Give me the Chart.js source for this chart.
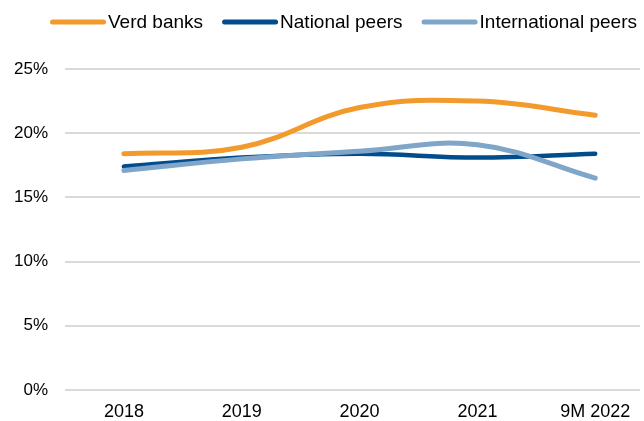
<!DOCTYPE html>
<html lang="en">
<head>
    <meta charset="utf-8">
    <script src="https://cdn.jsdelivr.net/npm/chart.js@4.4.0/dist/chart.umd.min.js"></script>
    <style>
        html, body { margin: 0; padding: 0; background: #fff; }
        #wrap { width: 644px; height: 421px; }
    </style>
</head>
<body>
    <div id="wrap"><canvas id="myChart"></canvas></div>
    <script>
        // values (%)
        var years = ['2018', '2019', '2020', '2021', '9M 2022'];
        var verdBanks = [18.4, 18.9, 22.0, 22.5, 21.4];
        var nationalPeers = [17.4, 18.1, 18.4, 18.1, 18.4];
        var internationalPeers = [17.1, 18.0, 18.6, 19.1, 16.5];
        var yTicks = [0, 5, 10, 15, 20, 25];

        var FONT = '"Liberation Sans", Arial, sans-serif';

        function pts(arr) {
            return arr.map(function (v, i) { return { x: i, y: v }; });
        }

        // legend like the original: long line, text right next to it
        var lineLegend = {
            id: 'lineLegend',
            afterDraw: function (chart) {
                var c = chart.ctx;
                var x = 50, y = 22;
                c.save();
                c.font = '19px ' + FONT;
                c.textBaseline = 'middle';
                c.textAlign = 'left';
                chart.data.datasets.forEach(function (ds) {
                    c.strokeStyle = ds.borderColor;
                    c.lineWidth = 5;
                    c.lineCap = 'round';
                    c.beginPath();
                    c.moveTo(x + 2.5, y);
                    c.lineTo(x + 53.5, y);
                    c.stroke();
                    c.fillStyle = '#000';
                    c.fillText(ds.label, x + 58, y + 1);
                    x += 58 + c.measureText(ds.label).width + 19;
                });
                c.restore();
            }
        };

        Chart.defaults.font.family = FONT;
        Chart.defaults.font.size = 18;
        Chart.defaults.color = '#000';
        Chart.defaults.animation = false;

        var ctx = document.getElementById('myChart').getContext('2d');
        var myChart = new Chart(ctx, {
            type: 'line',
            data: {
                datasets: [{
                    label: 'Verd banks',
                    data: pts(verdBanks),
                    borderColor: '#f39a2d',
                    borderWidth: 5,
                    borderCapStyle: 'round',
                    order: 1
                }, {
                    label: 'National peers',
                    data: pts(nationalPeers),
                    borderColor: '#004c8c',
                    borderWidth: 4.5,
                    borderCapStyle: 'round',
                    order: 3
                }, {
                    label: 'International peers',
                    data: pts(internationalPeers),
                    borderColor: '#7fa6c9',
                    borderWidth: 5,
                    borderCapStyle: 'round',
                    order: 2
                }]
            },
            plugins: [lineLegend],
            options: {
                responsive: true,
                maintainAspectRatio: false,
                layout: { padding: { left: 0, right: 4, top: 69, bottom: 0 } },
                elements: {
                    point: { radius: 0, hitRadius: 0 },
                    line: { tension: 0.4 }
                },
                plugins: {
                    tooltip: { enabled: false },
                    legend: { display: false }
                },
                scales: {
                    x: {
                        type: 'linear',
                        min: -0.5,
                        max: 4.38,
                        grid: { display: false, drawTicks: false },
                        border: { display: false },
                        afterBuildTicks: function (axis) {
                            axis.ticks = years.map(function (y, i) { return { value: i }; });
                        },
                        afterFit: function (axis) { axis.height = 31; },
                        ticks: {
                            padding: 13,
                            maxRotation: 0,
                            font: { size: 18, lineHeight: 1 },
                            callback: function (v) { return years[v]; }
                        }
                    },
                    y: {
                        min: 0,
                        max: 25,
                        afterBuildTicks: function (axis) {
                            axis.ticks = yTicks.map(function (v) { return { value: v }; });
                        },
                        afterFit: function (axis) { axis.width = 65; },
                        grid: { color: '#d9d9d9', lineWidth: 2, drawTicks: false },
                        border: { display: false },
                        ticks: {
                            padding: 17,
                            font: { size: 17 },
                            callback: function (v) { return v + '%'; }
                        }
                    }
                }
            }
        });
    </script>
</body>
</html>
